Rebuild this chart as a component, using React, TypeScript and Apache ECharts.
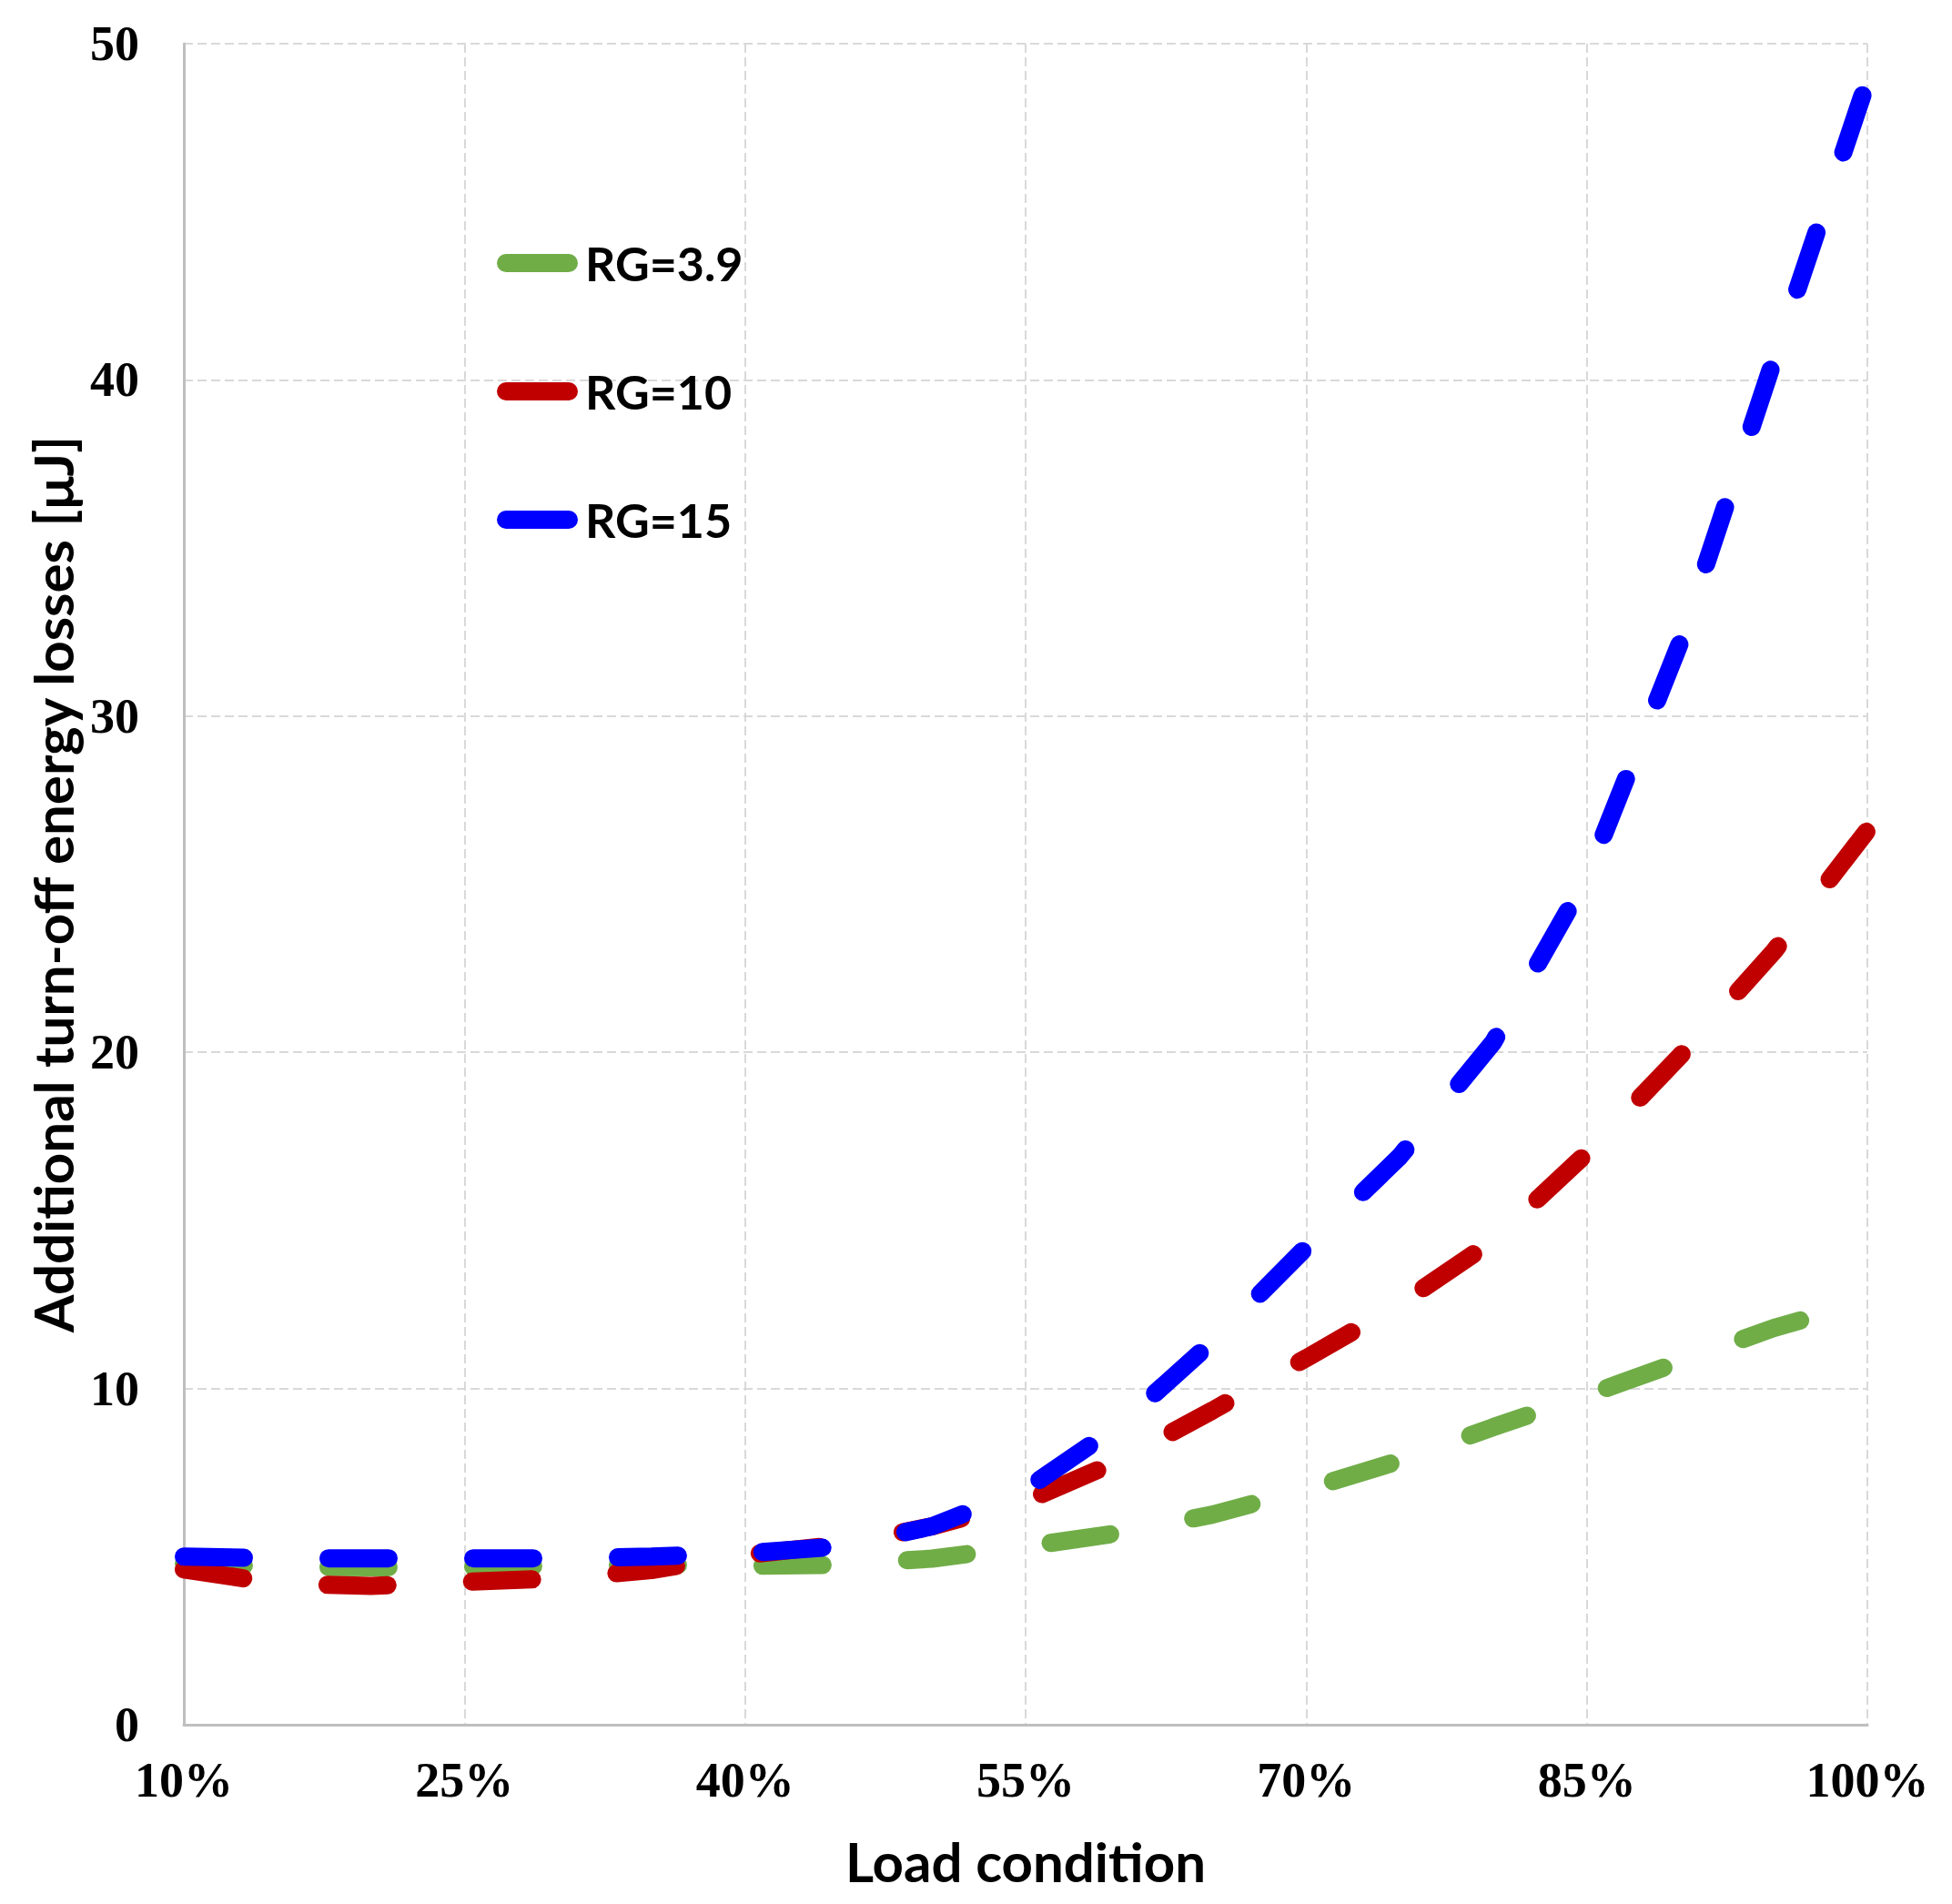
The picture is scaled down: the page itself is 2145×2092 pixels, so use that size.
import React, { useEffect, useRef } from "react";
import * as echarts from "echarts";

// Load condition (%) at which each curve is sampled
const loadPct = [10, 15, 20, 25, 30, 35, 40, 45, 50, 55, 60, 65, 70, 75, 80, 85, 90, 95, 100];
// Additional turn-off energy losses [μJ]
const rg39 = [4.8, 4.7, 4.68, 4.7, 4.72, 4.76, 4.72, 4.76, 4.94, 5.3, 5.7, 6.25, 7.0, 7.85, 8.85, 9.8, 10.8, 11.8, 12.6];
const rg10 = [4.62, 4.2, 4.13, 4.25, 4.35, 4.6, 5.05, 5.35, 5.9, 6.65, 7.85, 9.35, 10.9, 12.5, 14.4, 17.0, 19.9, 23.0, 26.6];
const rg15 = [5.0, 4.95, 4.95, 4.95, 4.95, 5.0, 5.1, 5.3, 5.9, 7.0, 8.9, 11.4, 14.2, 16.9, 20.3, 25.2, 32.2, 40.6, 48.9];

const seriesNames = ["RG=3.9", "RG=10", "RG=15"];
const seriesColors = ["#70AD47", "#C00000", "#0000FF"];
const seriesValues = [rg39, rg10, rg15];

const xMin = 10;
const xMax = 100;
const xStep = 15;
const yMin = 0;
const yMax = 50;
const yStep = 10;

const xTitle = "Load condition";
const yTitle = "Additional turn-off energy losses [μJ]";

export default function App() {
  const ref = useRef<HTMLDivElement>(null);

  useEffect(() => {
    document.body.style.margin = "0";
    if (!ref.current) return;
    const chart = echarts.init(ref.current, undefined, { renderer: "svg" });

    const tickFont = {
      fontFamily: "Liberation Serif",
      fontWeight: "bold" as const,
      fontSize: 54,
      color: "#000000",
    };
    const titleFont = {
      fontFamily: "Lato",
      fontWeight: "bold" as const,
      fontSize: 60,
      lineHeight: 60,
      color: "#000000",
    };
    const gridLine = { show: true, lineStyle: { color: "#d9d9d9", width: 2, type: [10, 5] } };

    chart.setOption({
      animation: false,
      backgroundColor: "#ffffff",
      grid: { left: 202, right: 93, top: 48, bottom: 197, containLabel: false },
      xAxis: {
        type: "value",
        min: xMin,
        max: xMax,
        interval: xStep,
        name: xTitle,
        nameLocation: "middle",
        nameGap: 120,
        nameTextStyle: titleFont,
        axisLine: { show: true, lineStyle: { color: "#bfbfbf", width: 3 } },
        axisTick: { show: false },
        axisLabel: { ...tickFont, formatter: "{value}%", margin: 34 },
        splitLine: gridLine,
      },
      yAxis: {
        type: "value",
        min: yMin,
        max: yMax,
        interval: yStep,
        name: yTitle,
        nameLocation: "middle",
        nameRotate: 90,
        nameGap: 110,
        nameTextStyle: titleFont,
        axisLine: { show: true, lineStyle: { color: "#bfbfbf", width: 3 } },
        axisTick: { show: false },
        axisLabel: { ...tickFont, margin: 49 },
        splitLine: gridLine,
      },
      legend: {
        orient: "vertical",
        left: 541,
        top: 258,
        itemGap: 89,
        itemWidth: 89,
        itemHeight: 20,
        icon: "path://M10,0 L79,0 A10,10 0 0 1 79,20 L10,20 A10,10 0 0 1 10,0 Z",
        selectedMode: false,
        itemStyle: { borderWidth: 0 },
        textStyle: {
          fontFamily: "Lato",
          fontWeight: "bold",
          fontSize: 52,
          lineHeight: 52,
          color: "#000000",
          padding: [0, 0, 0, 3],
        },
        data: seriesNames,
      },
      series: seriesNames.map((name, s) => ({
        name,
        type: "line",
        data: loadPct.map((x, i) => [x, seriesValues[s][i]]),
        symbol: "none",
        showSymbol: false,
        smooth: false,
        clip: true,
        itemStyle: { color: seriesColors[s] },
        lineStyle: { color: seriesColors[s], width: 20, type: [66, 93], cap: "round" },
      })),
    });

    return () => chart.dispose();
  }, []);

  return <div ref={ref} style={{ width: 2145, height: 2092 }} />;
}
